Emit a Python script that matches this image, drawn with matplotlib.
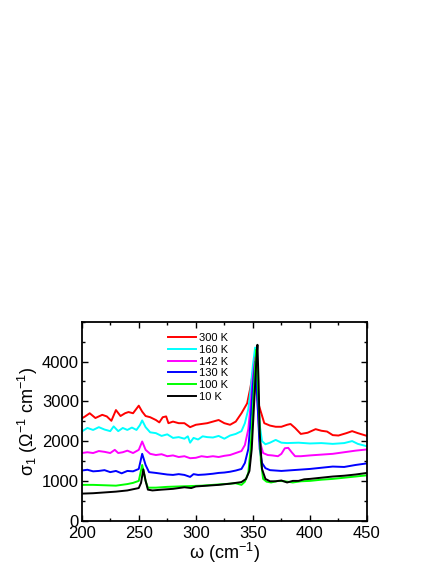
import matplotlib
matplotlib.use("Agg")
import matplotlib.pyplot as plt
from matplotlib.ticker import MultipleLocator, FixedLocator

plt.rcParams['font.family'] = ['Liberation Sans', 'DejaVu Sans']
plt.rcParams['mathtext.fontset'] = 'custom'
plt.rcParams['mathtext.rm'] = 'Liberation Sans'
plt.rcParams['mathtext.it'] = 'Liberation Sans'

labels = ["300 K", "160 K", "142 K", "130 K", "100 K", "10 K"]
colors = ["#ff0000", "#00ffff", "#ff00ff", "#0000ff", "#00ff00", "#000000"]

x_300 = [200, 203, 207, 212, 218, 222, 226, 230, 234, 238, 241, 245, 250, 253, 256, 260, 265, 268, 271, 274, 276,
         280, 285, 290, 295, 300, 310, 320, 325, 330, 335, 340, 345, 348, 350, 352, 354, 356, 360, 365, 370, 375,
         380, 383, 387, 392, 398, 405, 410, 415, 420, 425, 432, 437, 442, 450]
y_300 = [2570, 2620, 2700, 2580, 2660, 2620, 2510, 2780, 2630, 2700, 2730, 2700, 2890, 2740, 2630, 2600, 2530, 2470,
         2600, 2620, 2450, 2490, 2450, 2450, 2350, 2410, 2450, 2530, 2450, 2410, 2490, 2700, 2950, 3370, 3720, 3450,
         3040, 2830, 2450, 2390, 2360, 2360, 2410, 2430, 2330, 2180, 2210, 2300, 2260, 2240, 2150, 2140, 2200, 2250,
         2200, 2130]

x_160 = [200, 205, 210, 215, 220, 225, 228, 232, 236, 240, 244, 248, 251, 253, 256, 260, 265, 270, 275, 280, 285,
         290, 293, 295, 298, 302, 306, 310, 315, 320, 325, 330, 335, 340, 343, 346, 348, 350, 352, 354, 356, 358,
         361, 365, 370, 375, 380, 390, 400, 410, 420, 430, 437, 442, 450]
y_160 = [2240, 2330, 2280, 2350, 2290, 2250, 2370, 2250, 2330, 2280, 2340, 2280, 2400, 2520, 2350, 2220, 2200, 2130,
         2170, 2080, 2100, 2060, 2120, 1960, 2080, 2040, 2120, 2100, 2090, 2130, 2060, 2140, 2180, 2250, 2450, 2800,
         3300, 3900, 4350, 3500, 2400, 2000, 1920, 1960, 2030, 1960, 1950, 1960, 1940, 1950, 1930, 1950, 2000, 1930,
         1870]

x_142 = [200, 205, 210, 215, 220, 225, 229, 232, 236, 240, 245, 250, 253, 256, 260, 265, 270, 275, 280, 285, 290,
         295, 300, 305, 310, 315, 320, 325, 330, 335, 340, 343, 346, 348, 350, 352, 354, 356, 359, 363, 367, 372,
         375, 378, 381, 384, 387, 392, 400, 410, 420, 430, 440, 450]
y_142 = [1700, 1720, 1700, 1750, 1730, 1700, 1780, 1700, 1720, 1760, 1700, 1780, 1990, 1780, 1680, 1650, 1670, 1620,
         1640, 1600, 1620, 1570, 1580, 1620, 1600, 1620, 1600, 1630, 1650, 1700, 1750, 1900, 2300, 2900, 3600, 4100,
         3000, 2000, 1700, 1650, 1640, 1620, 1680, 1820, 1830, 1720, 1620, 1620, 1640, 1660, 1680, 1720, 1760, 1790]

x_130 = [200, 205, 210, 215, 220, 225, 230, 235, 240, 245, 250, 253, 256, 259, 265, 270, 275, 280, 285, 290, 295,
         298, 302, 308, 315, 320, 325, 330, 335, 340, 343, 346, 348, 350, 352, 354, 356, 358, 361, 365, 370, 375,
         380, 390, 400, 410, 420, 430, 440, 450]
y_130 = [1260, 1280, 1240, 1250, 1270, 1220, 1250, 1190, 1250, 1240, 1300, 1680, 1400, 1220, 1200, 1180, 1160, 1150,
         1170, 1150, 1100, 1170, 1150, 1160, 1180, 1200, 1210, 1230, 1260, 1300, 1450, 1800, 2500, 3400, 4000, 3000,
         1800, 1450, 1320, 1270, 1260, 1250, 1260, 1280, 1300, 1330, 1360, 1350, 1400, 1440]

x_100 = [200, 210, 220, 230, 240, 245, 250, 253, 256, 258, 265, 275, 285, 295, 305, 315, 325, 335, 340, 343, 346,
         348, 350, 352, 353, 355, 357, 359, 362, 366, 372, 378, 385, 392, 400, 410, 420, 430, 440, 450]
y_100 = [900, 900, 890, 880, 920, 950, 1000, 1400, 1000, 830, 830, 850, 860, 870, 880, 900, 920, 940, 900, 980, 1200,
         1800, 2800, 3900, 4300, 3000, 1500, 1050, 980, 960, 1000, 990, 960, 990, 1000, 1030, 1050, 1080, 1110, 1140]

x_10 = [200, 210, 220, 230, 240, 245, 250, 252, 254, 256, 258, 262, 270, 280, 290, 296, 300, 310, 320, 330, 335,
        340, 344, 347, 349, 351, 353, 354, 355, 356, 358, 361, 365, 370, 375, 380, 385, 390, 395, 400, 410, 420,
        430, 440, 450]
y_10 = [680, 690, 710, 730, 760, 790, 820, 950, 1290, 1000, 780, 760, 780, 800, 840, 820, 860, 880, 900, 930, 950,
        970, 1050, 1250, 1800, 2900, 4000, 4420, 3500, 2200, 1300, 1050, 990, 990, 1010, 960, 1000, 1000, 1040, 1050,
        1080, 1110, 1130, 1160, 1200]

x_ticks = [200, 250, 300, 350, 400, 450]
y_ticks = [0, 1000, 2000, 3000, 4000]

series_x = [x_300, x_160, x_142, x_130, x_100, x_10]
series_y = [y_300, y_160, y_142, y_130, y_100, y_10]

fig = plt.figure(figsize=(4.36, 5.64), dpi=100)
ax = fig.add_axes([0.1874, 0.0768, 0.6543, 0.3528])

for xs, ys, c, lab in zip(series_x, series_y, colors, labels):
    ax.plot(xs, ys, color=c, lw=1.4, label=lab)

ax.set_xlim(200, 450)
ax.set_ylim(0, 5000)
ax.xaxis.set_major_locator(FixedLocator(x_ticks))
ax.xaxis.set_minor_locator(MultipleLocator(25))
ax.yaxis.set_major_locator(FixedLocator(y_ticks))
ax.yaxis.set_minor_locator(MultipleLocator(500))
ax.tick_params(which='both', direction='in', top=True, right=True, labelsize=12)
ax.tick_params(which='major', length=4, width=1)
ax.tick_params(which='minor', length=2.5, width=1)
ax.tick_params(axis='x', pad=4)
ax.tick_params(axis='y', pad=2)
for s in ax.spines.values():
    s.set_linewidth(1.3)

ax.set_xlabel('ω (cm$^{-1}$)', fontsize=13, labelpad=0)
ax.set_ylabel('σ$_1$ (Ω$^{-1}$ cm$^{-1}$)', fontsize=13, labelpad=1)

ax.legend(loc='upper left', bbox_to_anchor=(0.29, 0.96), frameon=False, fontsize=8,
          handlelength=2.5, handletextpad=0.3, labelspacing=0.16, borderpad=0.3, borderaxespad=0)

fig.savefig("out.png", dpi=100)
